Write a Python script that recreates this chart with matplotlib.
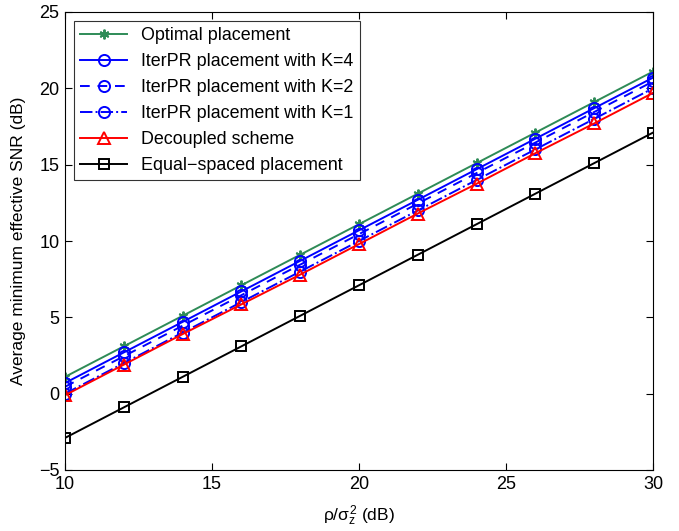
import matplotlib
matplotlib.use("Agg")
import matplotlib.pyplot as plt

plt.rcParams['font.family'] = ['Liberation Sans', 'DejaVu Sans']
plt.rcParams['mathtext.fontset'] = 'custom'
plt.rcParams['mathtext.rm'] = 'Liberation Sans'
plt.rcParams['mathtext.it'] = 'Liberation Sans'

x = [10, 12, 14, 16, 18, 20, 22, 24, 26, 28, 30]
optimal = [1.1, 3.1, 5.1, 7.1, 9.1, 11.1, 13.1, 15.1, 17.1, 19.1, 21.1]
k4 = [0.7, 2.7, 4.7, 6.7, 8.7, 10.7, 12.7, 14.7, 16.7, 18.7, 20.7]
k2 = [0.45, 2.45, 4.45, 6.45, 8.45, 10.45, 12.45, 14.45, 16.45, 18.45, 20.45]
k1 = [0.0, 2.0, 4.0, 6.0, 8.0, 10.0, 12.0, 14.0, 16.0, 18.0, 20.0]
decoupled = [-0.1, 1.9, 3.9, 5.85, 7.8, 9.8, 11.8, 13.75, 15.75, 17.7, 19.7]
equal = [-2.9, -0.9, 1.1, 3.1, 5.1, 7.1, 9.1, 11.1, 13.1, 15.1, 17.1]

fig = plt.figure(figsize=(6.79, 5.31), dpi=100)
ax = fig.add_axes([65/679, 1-470/531, (653-65)/679, (470-12)/531])

green = '#2e8b57'
blue = '#0000ff'
red = '#ff0000'
ms = 8
lw = 1.4
ax.plot(x, optimal, '-', color=green, marker=(6, 2, 0), ms=7, mew=1.4, lw=lw, label='Optimal placement')
ax.plot(x, k4, '-', color=blue, marker='o', ms=ms, mfc='none', mew=1.4, lw=lw, label='IterPR placement with K=4')
ax.plot(x, k2, '--', color=blue, marker='o', ms=ms, mfc='none', mew=1.4, lw=lw, dashes=(5, 4), label='IterPR placement with K=2')
ax.plot(x, k1, '-.', color=blue, marker='o', ms=ms, mfc='none', mew=1.4, lw=lw, label='IterPR placement with K=1')
ax.plot(x, decoupled, '-', color=red, marker='^', ms=ms, mfc='none', mew=1.4, lw=lw, label='Decoupled scheme')
ax.plot(x, equal, '-', color='black', marker='s', ms=7, mfc='none', mew=1.4, lw=lw, label='Equal\u2212spaced placement')

ax.set_xlim(10, 30)
ax.set_ylim(-5, 25)
ax.set_xticks([10, 15, 20, 25, 30])
ax.set_yticks([-5, 0, 5, 10, 15, 20, 25])
ax.tick_params(direction='in', top=True, right=True, labelsize=13, length=5, pad=4)
for s in ax.spines.values():
    s.set_linewidth(0.8)
ax.set_xlabel(r'$\rho/\sigma_z^2$ (dB)', fontsize=12.5, labelpad=8)
ax.set_ylabel('Average minimum effective SNR (dB)', fontsize=12.5, labelpad=9)
leg = ax.legend(loc='upper left', fontsize=12.9, frameon=True, fancybox=False, edgecolor='black',
                handlelength=2.6, borderpad=0.35, labelspacing=0.5, borderaxespad=0.5)
leg.get_frame().set_linewidth(0.8)
fig.savefig('out.png', dpi=100)
